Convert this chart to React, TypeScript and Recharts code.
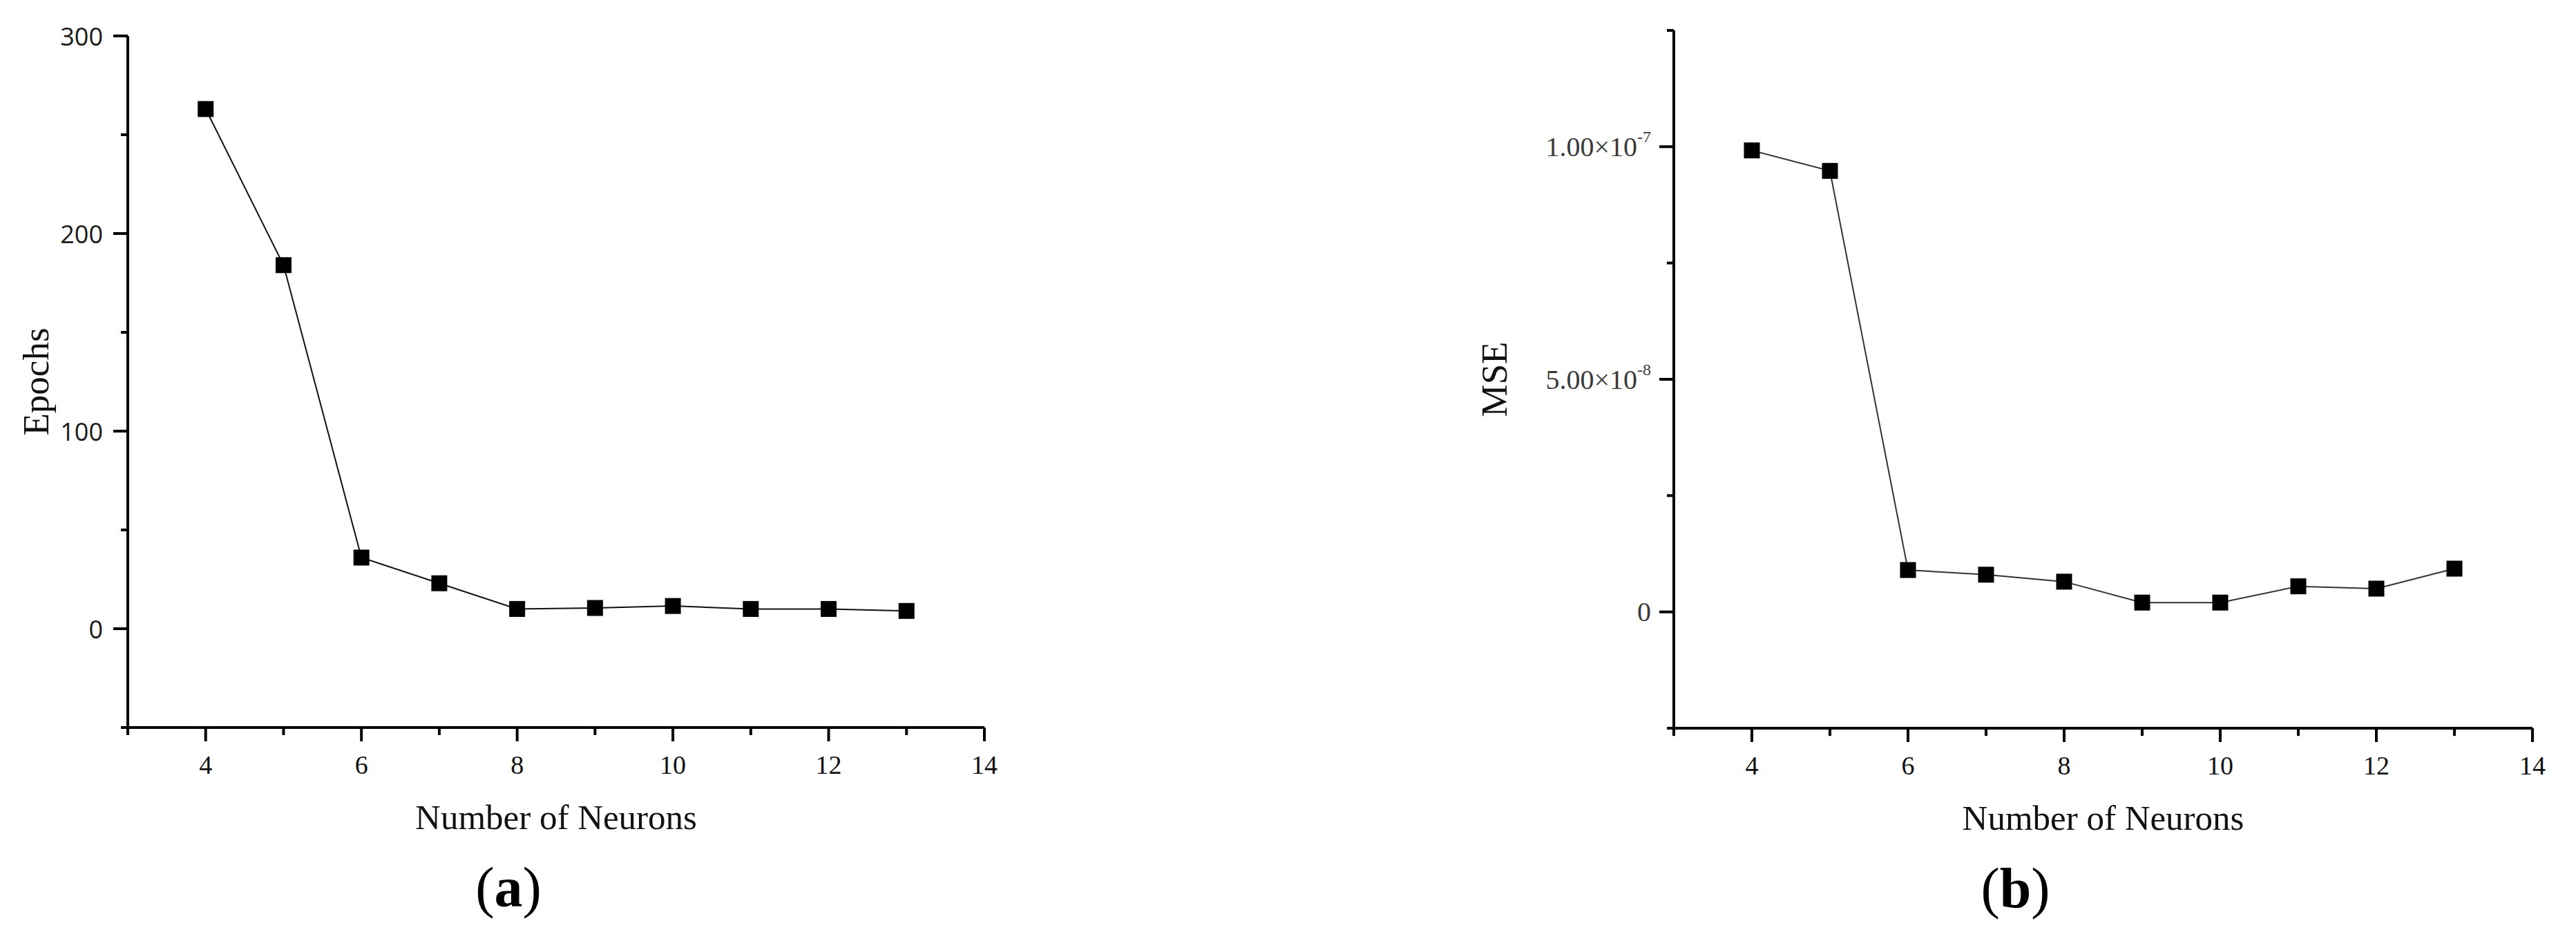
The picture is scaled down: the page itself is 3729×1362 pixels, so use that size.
import { LineChart, Line, XAxis, YAxis, Label } from "recharts";

// values
const neurons = [4, 5, 6, 7, 8, 9, 10, 11, 12, 13];
const epochs = [263, 184, 36, 23, 10, 10.5, 11.5, 10, 10, 9];
const mse = [9.92e-8, 9.48e-8, 9.0e-9, 8.0e-9, 6.5e-9, 2.0e-9, 2.0e-9, 5.5e-9, 5.0e-9, 9.3e-9];

const xTicks = [3, 4, 5, 6, 7, 8, 9, 10, 11, 12, 13, 14];
const xTickLabels = ["", "4", "", "6", "", "8", "", "10", "", "12", "", "14"];

const epochTicks = [-50, 0, 50, 100, 150, 200, 250, 300];
const epochTickLabels = ["", "0", "", "100", "", "200", "", "300"];

const mseTicks = [-2.5e-8, 0, 2.5e-8, 5e-8, 7.5e-8, 1e-7, 1.25e-7];
const mseTickLabels = ["", "0", "", "5.00×10", "", "1.00×10", ""];
const mseTickExps = ["", "", "", "-8", "", "-7", ""];

const SERIF = "'Liberation Serif', 'Times New Roman', Times, serif";
const SANS = "'Open Sans', 'Noto Sans', 'DejaVu Sans', sans-serif";

const epochData = neurons.map((n, i) => ({ n, y: epochs[i] }));
const mseData = neurons.map((n, i) => ({ n, y: mse[i] }));

const SquareDot = (props: any) => {
  const { cx, cy } = props;
  if (cx == null || cy == null) return null;
  return <rect x={cx - 11.5} y={cy - 11.5} width={23} height={23} fill="#000" />;
};

const renderXTick = (props: any) => {
  const { x, y, payload } = props;
  const i = xTicks.indexOf(payload.value);
  const label = xTickLabels[i] || "";
  const major = label !== "";
  return (
    <g>
      <line x1={x} y1={y} x2={x} y2={y + (major ? 20 : 11)} stroke="#000" strokeWidth={4} />
      {major && (
        <text x={x} y={y + 67} textAnchor="middle" fontFamily={SERIF} fontSize={38} fill="#111">
          {label}
        </text>
      )}
    </g>
  );
};

const makeYTick = (ticks: number[], labels: string[], exps: string[] | null, font: string, size: number, color: string, gap: number) =>
  (props: any) => {
    const { x, y, payload } = props;
    const i = ticks.indexOf(payload.value);
    const label = labels[i] || "";
    const major = label !== "";
    const exp = exps ? exps[i] : "";
    return (
      <g>
        <line x1={x} y1={y} x2={x - (major ? 21 : 10)} y2={y} stroke="#000" strokeWidth={4} />
        {major && (
          <text x={x - gap} y={y} textAnchor="end" dominantBaseline="central" fontFamily={font} fontSize={size} fill={color}>
            {label}
            {exp && (
              <tspan dy={-14} fontSize={24}>
                {exp}
              </tspan>
            )}
          </text>
        )}
      </g>
    );
  };

type PanelProps = {
  left: number;
  width: number;
  yAxisWidth: number;
  top: number;
  bottom: number;
  right: number;
  data: { n: number; y: number }[];
  yDomain: [number, number];
  yTicks: number[];
  yTick: (p: any) => any;
  yTitle: string;
  yTitleX: number;
  caption: string;
  captionDx: number;
  lineColor: string;
};

const HEIGHT = 1362;
const X_AXIS_H = 120;

function Panel(p: PanelProps) {
  const plotW = p.width - p.yAxisWidth - p.right;
  const plotH = HEIGHT - p.top - p.bottom;
  const plotCx = p.yAxisWidth + plotW / 2;
  const plotCy = p.top + plotH / 2;
  const plotBottom = p.top + plotH;
  return (
    <div style={{ position: "absolute", left: p.left, top: 0 }}>
      <LineChart
        width={p.width}
        height={HEIGHT}
        data={p.data}
        margin={{ top: p.top, right: p.right, left: 0, bottom: p.bottom - X_AXIS_H }}
      >
        <XAxis
          dataKey="n"
          type="number"
          domain={[3, 14]}
          ticks={xTicks}
          interval={0}
          allowDataOverflow
          height={X_AXIS_H}
          tickSize={0}
          tickMargin={0}
          tickLine={false}
          axisLine={{ stroke: "#000", strokeWidth: 4 }}
          tick={renderXTick}
        >
          <Label
            content={() => (
              <g>
                <text x={plotCx} y={plotBottom + 147} textAnchor="middle" fontFamily={SERIF} fontSize={51} fill="#111">
                  Number of Neurons
                </text>
                <text x={plotCx + p.captionDx} y={plotBottom + 259} textAnchor="middle" fontFamily={SERIF} fontSize={82} fill="#000">
                  (<tspan fontWeight="bold">{p.caption}</tspan>)
                </text>
              </g>
            )}
          />
        </XAxis>
        <YAxis
          type="number"
          domain={p.yDomain}
          ticks={p.yTicks}
          interval={0}
          allowDataOverflow
          width={p.yAxisWidth}
          tickSize={0}
          tickMargin={0}
          tickLine={false}
          axisLine={{ stroke: "#000", strokeWidth: 4 }}
          tick={p.yTick}
        >
          <Label
            content={() => (
              <text
                x={p.yTitleX}
                y={plotCy}
                transform={`rotate(-90, ${p.yTitleX}, ${plotCy})`}
                textAnchor="middle"
                dominantBaseline="central"
                fontFamily={SERIF}
                fontSize={53}
                fill="#111"
              >
                {p.yTitle}
              </text>
            )}
          />
        </YAxis>
        <Line
          type="linear"
          dataKey="y"
          stroke={p.lineColor}
          strokeWidth={2}
          dot={(d: any) => <SquareDot key={`dot-${d.index}`} {...d} />}
          activeDot={false}
          isAnimationActive={false}
        />
      </LineChart>
    </div>
  );
}

export default function App() {
  return (
    <div style={{ position: "absolute", left: 0, top: 0, width: 3729, height: HEIGHT, background: "#fff" }}>
      <Panel
        left={0}
        width={1864}
        yAxisWidth={185}
        top={52}
        bottom={HEIGHT - 1053}
        right={1864 - 1425}
        data={epochData}
        yDomain={[-50, 300]}
        yTicks={epochTicks}
        yTick={makeYTick(epochTicks, epochTickLabels, null, SANS, 36, "#1a1a1a", 36)}
        yTitle="Epochs"
        yTitleX={52}
        caption="a"
        captionDx={-69}
        lineColor="#111"
      />
      <Panel
        left={1864}
        width={1865}
        yAxisWidth={2423 - 1864}
        top={44}
        bottom={HEIGHT - 1054}
        right={1865 - (3666 - 1864)}
        data={mseData}
        yDomain={[-2.5e-8, 1.25e-7]}
        yTicks={mseTicks}
        yTick={makeYTick(mseTicks, mseTickLabels, mseTickExps, SERIF, 40, "#3a3a3a", 33)}
        yTitle="MSE"
        yTitleX={2163 - 1864}
        caption="b"
        captionDx={-127}
        lineColor="#333"
      />
    </div>
  );
}
